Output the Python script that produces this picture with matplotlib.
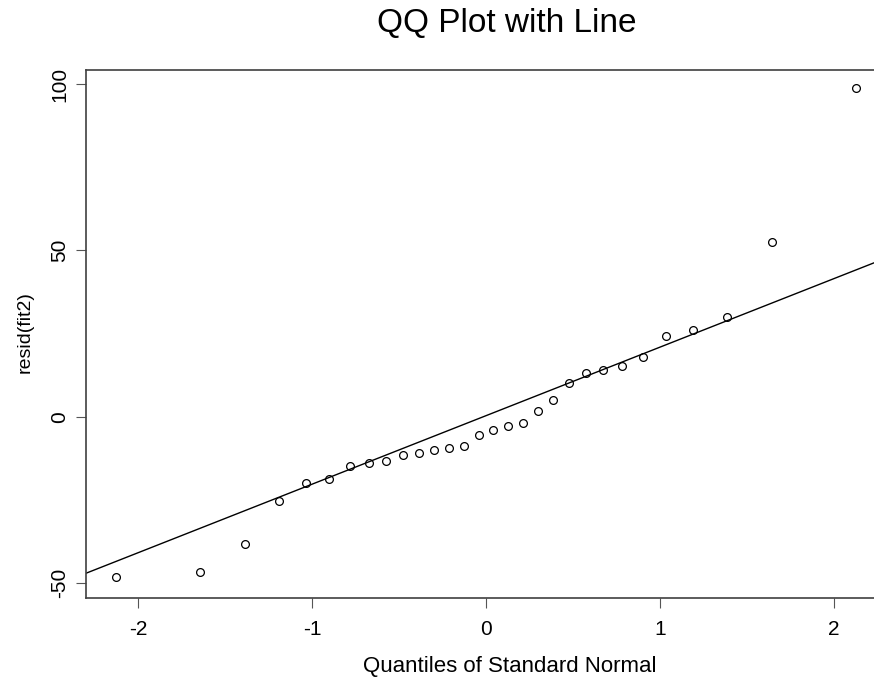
import matplotlib.pyplot as plt
import numpy as np

plt.rcParams['font.family'] = ['Liberation Sans', 'DejaVu Sans']

# Quantis teóricos da normal padrão e resíduos ordenados
quantis = [-2.128, -1.645, -1.383, -1.192, -1.036, -0.903, -0.784, -0.674,
           -0.573, -0.477, -0.385, -0.297, -0.210, -0.126, -0.042,
           0.042, 0.126, 0.210, 0.297, 0.385, 0.477, 0.573, 0.674,
           0.784, 0.903, 1.036, 1.192, 1.383, 1.645, 2.128]
residuos = [-48.3, -46.7, -38.3, -25.3, -19.9, -18.8, -14.9, -13.8,
            -13.2, -11.4, -11.0, -9.9, -9.3, -8.9, -5.4,
            -4.0, -2.9, -1.9, 1.7, 5.1, 10.1, 13.1, 14.1,
            15.1, 18.0, 24.1, 26.1, 30.1, 52.6, 98.7]

# Reta de referência (qqline)
inclinacao = 20.6
intercepto = 0.3

x_ticks = [-2, -1, 0, 1, 2]
y_ticks = [-50, 0, 50, 100]

fig = plt.figure(figsize=(8.74, 6.81), dpi=100)
ax = fig.add_axes([86 / 874, 83 / 681, 844 / 874, 528 / 681])

ax.plot(quantis, residuos, linestyle='none', marker='o', markersize=5.6,
        markerfacecolor='none', markeredgecolor='black', markeredgewidth=0.9)

xs = np.array([-2.4, 2.6])
ax.plot(xs, intercepto + inclinacao * xs, color='black', linewidth=1)

ax.set_xlim(-2.299, 2.552)
ax.set_ylim(-54.5, 104.2)
ax.set_xticks(x_ticks)
ax.set_yticks(y_ticks)
ax.set_xticklabels([str(v) for v in x_ticks], fontsize=15)
ax.set_yticklabels([str(v) for v in y_ticks], fontsize=15, rotation=90, va='center')
ax.tick_params(direction='out', length=7.2, width=0.8, color='#555555')
ax.tick_params(axis='x', pad=8.5)
ax.tick_params(axis='y', pad=5)

for lado in ['left', 'top', 'bottom', 'right']:
    ax.spines[lado].set_linewidth(1.2)
    ax.spines[lado].set_color('#404040')

fig.text(507 / 874, 1 - 32 / 681, 'QQ Plot with Line', fontsize=24,
         ha='center', va='baseline')
fig.text(510 / 874, 1 - 672 / 681, 'Quantiles of Standard Normal', fontsize=16,
         ha='center', va='baseline')
fig.text(25 / 874, 1 - 332 / 681, 'resid(fit2)', fontsize=14, rotation=90,
         ha='center', va='center')

plt.savefig('out.png', dpi=100)
